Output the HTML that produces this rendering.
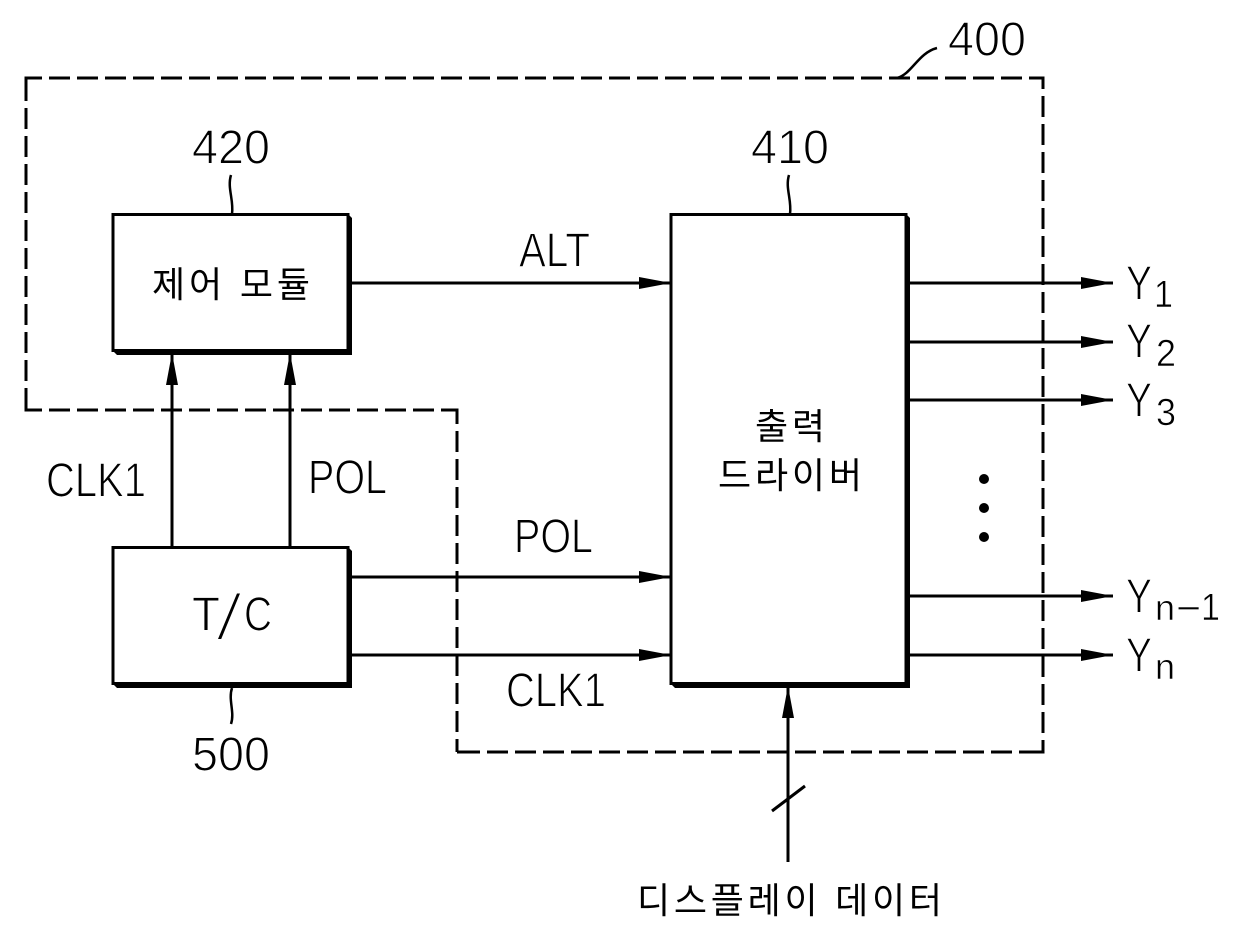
<!DOCTYPE html>
<html><head><meta charset="utf-8">
<style>html,body{margin:0;padding:0;background:#fff}svg{display:block}
text{font-family:"Liberation Sans","Noto Sans CJK KR",sans-serif;fill:#000}
.l text{stroke:#fff;stroke-width:1.1px}
.s text{stroke:#fff;stroke-width:.6px}
.k text{font-weight:400}</style></head>
<body>
<svg width="1240" height="937" viewBox="0 0 1240 937" xmlns="http://www.w3.org/2000/svg">
<defs><marker id="a" markerUnits="userSpaceOnUse" markerWidth="32" markerHeight="14" refX="32" refY="6" orient="auto"><path d="M0 0L32 6L0 12Z" fill="#000"/></marker></defs>
<g fill="none" stroke="#000" stroke-width="3">
<g stroke-dasharray="21 7">
<path d="M26 78H1043" stroke-dashoffset="5"/>
<path d="M1043 78V752" stroke-dashoffset="10"/>
<path d="M457 410V752" stroke-dashoffset="7"/>
<path d="M26 410H457" stroke-dashoffset="5"/>
<path d="M26 80V410"/>
<path d="M487 752H1019"/>
</g>
<path d="M457 752H480M1019 752H1044.5"/>
<path d="M24.5 78H28M26 76.5V82M24.5 410H28M455 410H458.5M457 408.5V412M1041 78H1044.5M1043 76.500V80"/>
<path d="M897 78C912 74 918 53 937 48" stroke-width="2.5"/>
</g>
<g fill="#000">
<path d="M348 214L352 218V355H117L113 351Z"/>
<path d="M348 547L352 551V688H117L113 684Z"/>
<path d="M906 214L910 218V688H675L671 684Z"/>
</g>
<g fill="#fff" stroke="#000" stroke-width="3">
<rect x="113" y="214.500" width="235" height="136"/><rect x="113" y="547.500" width="235" height="136"/><rect x="671" y="214.500" width="235" height="469"/></g>
<g stroke="#000" stroke-width="3" fill="none">
<path d="M352 283H671" marker-end="url(#a)"/><path d="M352 577H671" marker-end="url(#a)"/><path d="M352 655H671" marker-end="url(#a)"/>
<path d="M172 547V353" marker-end="url(#a)"/><path d="M290 547V353" marker-end="url(#a)"/><path d="M788 862V686" marker-end="url(#a)"/>
<path d="M910 283H1113" marker-end="url(#a)"/><path d="M910 342H1113" marker-end="url(#a)"/><path d="M910 400H1113" marker-end="url(#a)"/><path d="M910 596H1113" marker-end="url(#a)"/><path d="M910 655H1113" marker-end="url(#a)"/>
<path d="M772 811L805 786"/>
<path d="M231 175C227 188 234 200 232 214" stroke-width="2.5"/><path d="M789 175C785 188 792 200 790 214" stroke-width="2.5"/><path d="M232 688C228 700 235 712 231 724" stroke-width="2.5"/>
</g>
<circle cx="984" cy="479" r="5"/><circle cx="984" cy="508" r="5"/><circle cx="984" cy="537" r="5"/>
<g class="l" font-size="48">
<text x="948" y="55.500" textLength="78" lengthAdjust="spacingAndGlyphs">400</text>
<text x="192" y="163.500" textLength="78" lengthAdjust="spacingAndGlyphs">420</text>
<text x="751" y="163.500" textLength="78" lengthAdjust="spacingAndGlyphs">410</text>
<text x="192" y="770.500" textLength="78" lengthAdjust="spacingAndGlyphs">500</text>
<text x="519" y="266.500" textLength="71" lengthAdjust="spacingAndGlyphs">ALT</text>
<text x="514" y="552.500" textLength="79" lengthAdjust="spacingAndGlyphs">POL</text>
<text x="506" y="706.500" textLength="100" lengthAdjust="spacingAndGlyphs">CLK1</text>
<text x="46" y="496.500" textLength="100" lengthAdjust="spacingAndGlyphs">CLK1</text>
<text x="308" y="493.500" textLength="79" lengthAdjust="spacingAndGlyphs">POL</text>
<text x="192" y="630.500" textLength="28" lengthAdjust="spacingAndGlyphs">T</text>
<text x="215" y="640" font-size="66" textLength="28" lengthAdjust="spacingAndGlyphs" style="stroke-width:3px">/</text>
<text x="244" y="630.500" textLength="28" lengthAdjust="spacingAndGlyphs">C</text>
<text x="1126" y="299.500" textLength="26" lengthAdjust="spacingAndGlyphs">Y</text>
<text x="1126" y="357.500" textLength="26" lengthAdjust="spacingAndGlyphs">Y</text>
<text x="1126" y="416.500" textLength="26" lengthAdjust="spacingAndGlyphs">Y</text>
<text x="1126" y="612.500" textLength="26" lengthAdjust="spacingAndGlyphs">Y</text>
<text x="1126" y="671.500" textLength="26" lengthAdjust="spacingAndGlyphs">Y</text>
</g>
<g class="s" font-size="38">
<text x="1154" y="307" textLength="19" lengthAdjust="spacingAndGlyphs">1</text>
<text x="1156" y="366" textLength="20" lengthAdjust="spacingAndGlyphs">2</text>
<text x="1156" y="425" textLength="20" lengthAdjust="spacingAndGlyphs">3</text>
<text x="1155" y="620" font-size="36" textLength="20" lengthAdjust="spacingAndGlyphs">n</text>
<text x="1176" y="621" textLength="25" lengthAdjust="spacingAndGlyphs">−</text>
<text x="1201" y="620" textLength="19" lengthAdjust="spacingAndGlyphs">1</text>
<text x="1155" y="679" font-size="36" textLength="20" lengthAdjust="spacingAndGlyphs">n</text>
</g>
<g class="k" font-size="36">
<text x="152" y="297" textLength="158" lengthAdjust="spacing">제어 모듈</text>
<text x="755" y="439" textLength="70" lengthAdjust="spacing">출력</text>
<text x="718" y="488" textLength="144" lengthAdjust="spacing">드라이버</text>
<text x="637" y="913" textLength="305" lengthAdjust="spacing">디스플레이 데이터</text>
</g>
</svg>
</body></html>
